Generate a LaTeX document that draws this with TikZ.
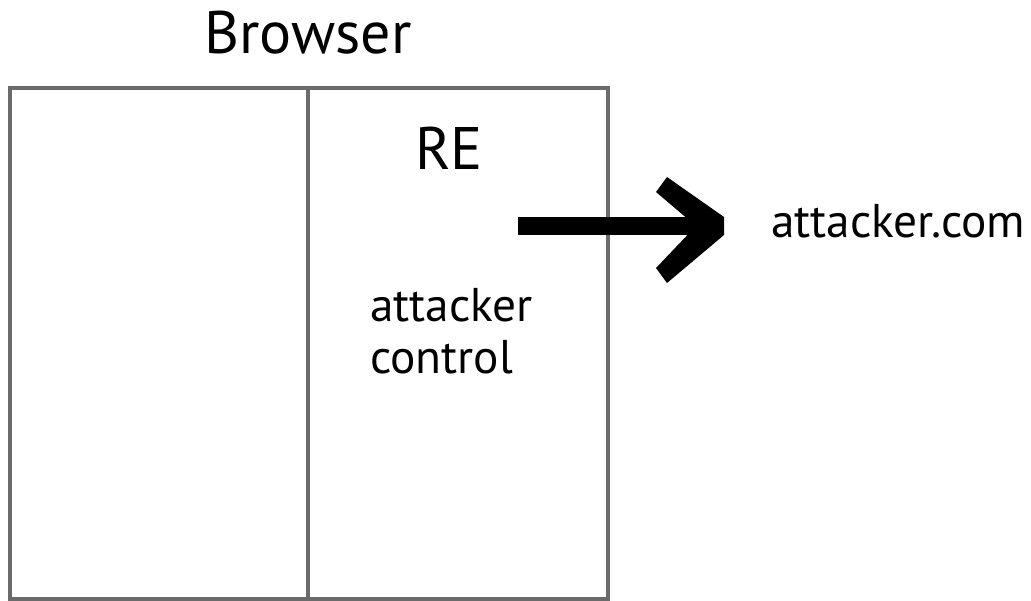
\documentclass[tikz,border=0pt]{standalone}
\usepackage{fontspec}
\setmainfont{PT Sans}
\begin{document}
\begin{tikzpicture}[x=0.75pt,y=-0.75pt,
  frame/.style={draw=black!58,line width=2.3pt},
  lbl/.style={inner sep=0pt,font=\fontsize{35.5}{38.5}\selectfont},
  big/.style={inner sep=0pt,font=\fontsize{45}{54}\selectfont}]
\useasboundingbox (0,0) rectangle (1031,600);
\coordinate (tl) at (10,88);
\coordinate (br) at (608,599);
\coordinate (mt) at (308,88);
\coordinate (mb) at (308,599);
\draw[frame] (tl) rectangle (br);
\draw[frame] (mt) -- (mb);
\node[big,anchor=base] (browser) at (308,53) {Browser};
\node[big,anchor=base] (re) at (449,169) {RE};
\node[lbl,anchor=base west,align=left] (ac) at (370,373) {attacker\\control};
\node[lbl,anchor=base west] (web) at (771,237) {attacker.com};
\coordinate (s) at (518,226);
\coordinate (tip) at (724,226);
\fill[black] (s) ++(0,-9) rectangle (700,235);
\fill[black] (656,192) -- (667,177) -- (724,217) -- (724,235) -- (667,283) -- (656,268) -- (696,226) -- cycle;
\end{tikzpicture}
\end{document}
